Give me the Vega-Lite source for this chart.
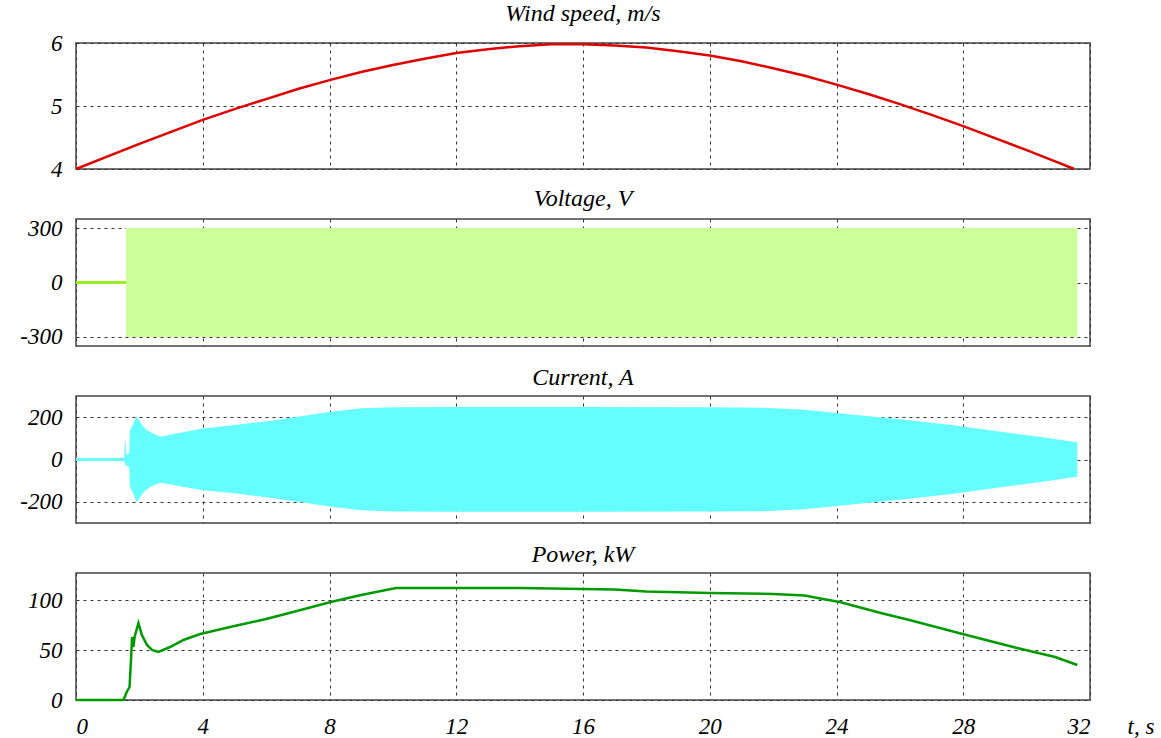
{
  "$schema": "https://vega.github.io/schema/vega-lite/v6.json",
  "background": "white",
  "padding": {"left": 19, "top": 1, "right": 5, "bottom": 5},
  "spacing": 50,
  "bounds": "flush",
  "resolve": {"scale": {"x": "independent", "y": "independent"}},
  "config": {
    "font": "Liberation Serif",
    "view": {"stroke": "#444", "strokeWidth": 1.5},
    "title": {"font": "Liberation Serif", "fontStyle": "italic", "fontSize": 24, "fontWeight": "normal", "color": "black", "offset": 6},
    "axis": {"labelFont": "Liberation Serif", "labelFontStyle": "italic", "labelFontSize": 23, "labelColor": "black", "ticks": false, "domain": false, "grid": true, "gridColor": "#333", "gridDash": [3, 4], "gridWidth": 1, "title": null, "zindex": 0,
      "labelExpr": "datum.value < 0 ? '-' + abs(datum.value) : '' + datum.value"}
  },
  "datasets": {
    "wind": [
      {"t": 0, "v": 4.0}, {"t": 1, "v": 4.2}, {"t": 2, "v": 4.4}, {"t": 3, "v": 4.59}, {"t": 4, "v": 4.78},
      {"t": 5, "v": 4.95}, {"t": 6, "v": 5.11}, {"t": 7, "v": 5.27}, {"t": 8, "v": 5.41}, {"t": 9, "v": 5.54},
      {"t": 10, "v": 5.65}, {"t": 11, "v": 5.75}, {"t": 12, "v": 5.84}, {"t": 13, "v": 5.9}, {"t": 14, "v": 5.95},
      {"t": 15, "v": 5.98}, {"t": 16, "v": 5.98}, {"t": 17, "v": 5.96}, {"t": 18, "v": 5.93}, {"t": 19, "v": 5.87},
      {"t": 20, "v": 5.8}, {"t": 21, "v": 5.71}, {"t": 22, "v": 5.6}, {"t": 23, "v": 5.48}, {"t": 24, "v": 5.34},
      {"t": 25, "v": 5.19}, {"t": 26, "v": 5.03}, {"t": 27, "v": 4.86}, {"t": 28, "v": 4.68}, {"t": 29, "v": 4.49},
      {"t": 30, "v": 4.3}, {"t": 31, "v": 4.1}, {"t": 31.5, "v": 4.0}
    ],
    "volt_line": [{"t": 0, "v": 0}, {"t": 1.58, "v": 0}],
    "volt_band": [{"t": 1.58, "lo": -300, "hi": 300}, {"t": 31.6, "lo": -300, "hi": 300}],
    "cur_line": [{"t": 0, "v": 0}, {"t": 1.52, "v": 0}],
    "cur_env": [
      {"t": 1.52, "lo": 0, "hi": 0}, {"t": 1.55, "lo": -25, "hi": 100}, {"t": 1.6, "lo": -30, "hi": 20},
      {"t": 1.68, "lo": -35, "hi": 30}, {"t": 1.7, "lo": -130, "hi": 135}, {"t": 1.8, "lo": -160, "hi": 165},
      {"t": 1.92, "lo": -203, "hi": 205}, {"t": 2.05, "lo": -170, "hi": 170}, {"t": 2.2, "lo": -145, "hi": 143},
      {"t": 2.4, "lo": -125, "hi": 125}, {"t": 2.66, "lo": -110, "hi": 108}, {"t": 3.0, "lo": -118, "hi": 118},
      {"t": 3.5, "lo": -132, "hi": 132}, {"t": 4.0, "lo": -145, "hi": 147}, {"t": 5.0, "lo": -160, "hi": 163},
      {"t": 6.0, "lo": -178, "hi": 180}, {"t": 7.0, "lo": -200, "hi": 202}, {"t": 8.0, "lo": -222, "hi": 224},
      {"t": 9.0, "lo": -240, "hi": 242}, {"t": 10.0, "lo": -246, "hi": 247}, {"t": 12, "lo": -247, "hi": 248},
      {"t": 16, "lo": -247, "hi": 248}, {"t": 20, "lo": -246, "hi": 247}, {"t": 21.7, "lo": -244, "hi": 245},
      {"t": 23, "lo": -235, "hi": 235}, {"t": 24, "lo": -220, "hi": 220}, {"t": 26, "lo": -190, "hi": 190},
      {"t": 27.7, "lo": -162, "hi": 162}, {"t": 29, "lo": -135, "hi": 135}, {"t": 30.5, "lo": -105, "hi": 105},
      {"t": 31.6, "lo": -81, "hi": 81}
    ],
    "power": [
      {"t": 0, "p": 0}, {"t": 1.5, "p": 0}, {"t": 1.6, "p": 8}, {"t": 1.69, "p": 13}, {"t": 1.74, "p": 43},
      {"t": 1.77, "p": 63}, {"t": 1.81, "p": 53}, {"t": 1.85, "p": 63}, {"t": 1.97, "p": 77}, {"t": 2.08, "p": 65},
      {"t": 2.24, "p": 55}, {"t": 2.4, "p": 50}, {"t": 2.6, "p": 48}, {"t": 2.97, "p": 53}, {"t": 3.39, "p": 60},
      {"t": 3.92, "p": 66}, {"t": 5, "p": 74}, {"t": 6, "p": 81}, {"t": 7.09, "p": 90}, {"t": 8.04, "p": 98},
      {"t": 9, "p": 105}, {"t": 10.1, "p": 112}, {"t": 12, "p": 112}, {"t": 14, "p": 112}, {"t": 16, "p": 111},
      {"t": 17, "p": 110.5}, {"t": 18, "p": 108.5}, {"t": 20, "p": 107}, {"t": 22, "p": 106}, {"t": 23, "p": 104.5},
      {"t": 23.4, "p": 102}, {"t": 24.1, "p": 98}, {"t": 25.4, "p": 87}, {"t": 26.3, "p": 80}, {"t": 28.1, "p": 65},
      {"t": 29.7, "p": 52}, {"t": 30.9, "p": 43}, {"t": 31.6, "p": 35}
    ]
  },
  "vconcat": [
    {
      "title": "Wind speed, m/s",
      "width": 1014, "height": 126,
      "data": {"name": "wind"},
      "mark": {"type": "line", "color": "#e00000", "strokeWidth": 2.5},
      "encoding": {
        "x": {"field": "t", "type": "quantitative", "scale": {"domain": [0, 32], "nice": false}, "axis": {"values": [0, 4, 8, 12, 16, 20, 24, 28, 32], "labels": false}},
        "y": {"field": "v", "type": "quantitative", "scale": {"domain": [4, 6], "nice": false, "zero": false}, "axis": {"values": [4, 5, 6], "labelPadding": 14}}
      }
    },
    {
      "title": "Voltage, V",
      "width": 1014, "height": 127,
      "layer": [
        {
          "data": {"name": "volt_band"},
          "mark": {"type": "area", "color": "#ccff99", "opacity": 1},
          "encoding": {
            "x": {"field": "t", "type": "quantitative", "scale": {"domain": [0, 32], "nice": false}, "axis": {"values": [0, 4, 8, 12, 16, 20, 24, 28, 32], "labels": false}},
            "y": {"field": "lo", "type": "quantitative", "scale": {"domain": [-350, 350], "nice": false}, "axis": {"values": [-300, 0, 300], "labelPadding": 14}},
            "y2": {"field": "hi"}
          }
        },
        {
          "data": {"name": "volt_line"},
          "mark": {"type": "line", "color": "#99ee22", "strokeWidth": 3, "opacity": 1},
          "encoding": {
            "x": {"field": "t", "type": "quantitative"},
            "y": {"field": "v", "type": "quantitative"}
          }
        }
      ]
    },
    {
      "title": "Current, A",
      "width": 1014, "height": 127,
      "layer": [
        {
          "data": {"name": "cur_env"},
          "mark": {"type": "area", "color": "#66ffff", "opacity": 1},
          "encoding": {
            "x": {"field": "t", "type": "quantitative", "scale": {"domain": [0, 32], "nice": false}, "axis": {"values": [0, 4, 8, 12, 16, 20, 24, 28, 32], "labels": false}},
            "y": {"field": "lo", "type": "quantitative", "scale": {"domain": [-300, 300], "nice": false}, "axis": {"values": [-200, 0, 200], "labelPadding": 14}},
            "y2": {"field": "hi"}
          }
        },
        {
          "data": {"name": "cur_line"},
          "mark": {"type": "line", "color": "#66ffff", "strokeWidth": 3, "opacity": 1},
          "encoding": {
            "x": {"field": "t", "type": "quantitative"},
            "y": {"field": "v", "type": "quantitative"}
          }
        }
      ]
    },
    {
      "title": "Power, kW",
      "width": 1014, "height": 127,
      "data": {"name": "power"},
      "mark": {"type": "line", "color": "#009a00", "strokeWidth": 2.5},
      "encoding": {
        "x": {"field": "t", "type": "quantitative", "scale": {"domain": [0, 32], "nice": false},
              "axis": {"values": [0, 4, 8, 12, 16, 20, 24, 28, 32], "labelPadding": 15, "title": "t, s", "titleFont": "Liberation Serif", "titleFontStyle": "italic", "titleFontWeight": "normal", "titleFontSize": 23, "titleColor": "black", "titleAlign": "left", "titleBaseline": "alphabetic", "titleX": 1051, "titleY": 33, "titleAngle": 0}},
        "y": {"field": "p", "type": "quantitative", "scale": {"domain": [0, 127], "nice": false}, "axis": {"values": [0, 50, 100], "labelPadding": 14}}
      }
    }
  ]
}
